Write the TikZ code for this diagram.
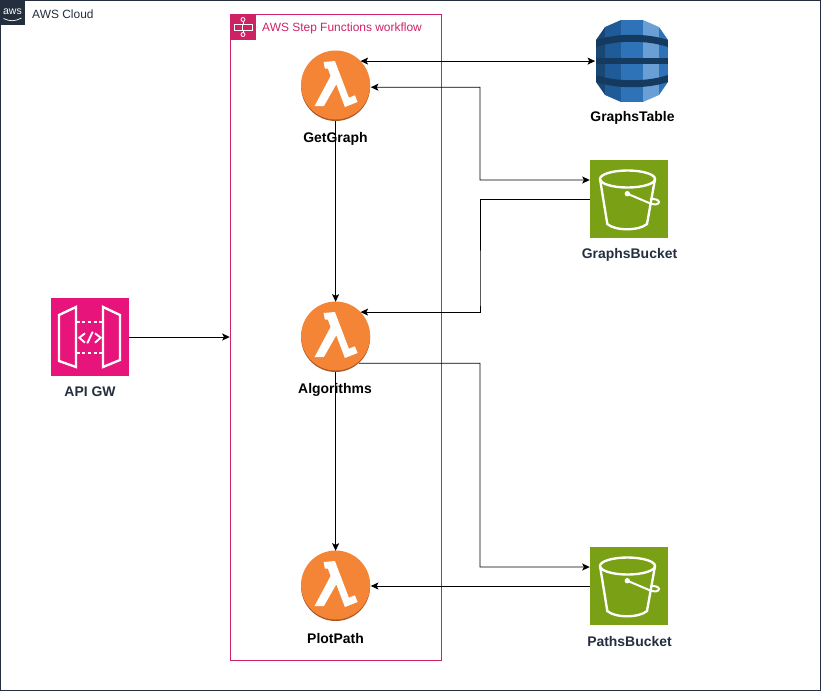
\documentclass[tikz,border=0pt]{standalone}
\usepackage{fontspec}
\setmainfont{Liberation Sans}
\usetikzlibrary{arrows.meta}
\definecolor{awsdark}{HTML}{232F3E}
\definecolor{awspink}{HTML}{E7157B}
\definecolor{stepred}{HTML}{CD2264}
\definecolor{lambdaorange}{HTML}{F58536}
\definecolor{lambdarim}{HTML}{9D5025}
\definecolor{bucketgreen}{HTML}{7AA116}
\definecolor{dbdarkest}{HTML}{153A5F}
\definecolor{dbdark}{HTML}{205B99}
\definecolor{dbmid}{HTML}{2E73B8}
\definecolor{dblight}{HTML}{6A9FD6}
\begin{document}
\begin{tikzpicture}[
     x=0.03cm, y=-0.03cm,
     >={Stealth[length=6.5pt,width=6pt,inset=1.5pt]},
     flow/.style={draw=black,line width=0.75pt},
     frame/.style={draw=#1,inner sep=0pt},
     lambdanode/.style={circle,inner sep=0pt,minimum size=2.1cm},
     tablenode/.style={inner sep=0pt,minimum width=2.2cm,minimum height=2.46cm},
     bucketnode/.style={fill=bucketgreen,inner sep=0pt,minimum size=2.34cm},
     apinode/.style={fill=awspink,inner sep=0pt,minimum size=2.34cm},
     lab/.style={font=\fontsize{11.9pt}{14pt}\selectfont\bfseries,text=#1,inner sep=0pt},
     lab/.default=awsdark,
     glyph/.style={draw=white,line width=2pt,line join=miter},
     lambda/.pic={
       \fill[lambdarim!85!lambdaorange] (0,0.5) circle (34.5);
       \fill[lambdaorange] (0,-1) circle (34.5);
       \fill[white] (-12,-24) -- (-0.7,-25) -- (13.3,11.7) -- (19.3,9.3) -- (22,16)
         -- (9.3,21) -- (0.7,-1.7) -- (-11.7,20) -- (-21,20) -- (-5,-10) -- (-7.7,-17.3)
         -- (-10.7,-17.3) -- cycle;
     },
     dbtable/.pic={
       \begin{scope}
         \clip (-36,-21) -- (-27,-34) -- (-11,-41) -- (11,-41) -- (27,-34) -- (36,-21)
           -- (36,21) -- (27,34) -- (11,41) -- (-11,41) -- (-27,34) -- (-36,21) -- cycle;
         \fill[dbdarkest!65!dbdark] (-36,-41) rectangle (-27,41);
         \fill[dbdark] (-27,-41) rectangle (-11,41);
         \fill[dbmid] (-11,-41) rectangle (11,41);
         \fill[dblight] (11,-41) rectangle (27,41);
         \fill[dbmid] (27,-41) rectangle (36,41);
         \fill[dbdarkest] (-36,-21) .. controls (-15,-28) and (15,-28) .. (36,-21)
           -- (36,-14) .. controls (15,-21) and (-15,-21) .. (-36,-14) -- cycle;
         \fill[dbdarkest] (-36,-3) rectangle (36,3);
         \fill[dbdarkest] (-36,21) .. controls (-15,28) and (15,28) .. (36,21)
           -- (36,14) .. controls (15,21) and (-15,21) .. (-36,14) -- cycle;
       \end{scope}
     },
     bucket/.pic={
       \draw[glyph] (-1.5,-20) ellipse (27.5 and 8.5);
       \draw[glyph] (-29,-20) -- (-21.7,25) .. controls (-14,32) and (10,32) .. (18,25) -- (26,-20);
       \fill[white] (-1.7,-5.3) circle (2.7);
       \draw[draw=white,line width=1.7pt] (-1.7,-5.3) -- (19,3.5) .. controls (26,7) and (30,5) .. (30,3)
         .. controls (30,1) and (25,-1) .. (21,0.5);
     },
     apigw/.pic={
       \draw[glyph] (-31,-22) -- (-14,-30) -- (-14,30) -- (-31,24) -- cycle;
       \draw[glyph] (13,-30) -- (30,-22) -- (30,23) -- (13,30) -- cycle;
       \draw[glyph,dash pattern=on 3pt off 2pt] (-14,-15) -- (13,-15);
       \draw[glyph,dash pattern=on 3pt off 2pt] (-14,16) -- (13,16);
       \draw[glyph,line width=1.6pt] (-5,-3.7) -- (-10.7,0.7) -- (-5,5.7);
       \draw[glyph,line width=1.6pt] (2.7,-5.3) -- (-2.7,6.3);
       \draw[glyph,line width=1.6pt] (5,-3.7) -- (10.7,0.7) -- (5,5.7);
     },
     stepglyph/.pic={
       \draw[draw=white,line width=0.7pt] (-9,-3) rectangle (9,3);
       \draw[draw=white,line width=0.7pt] (-1,-3) -- (-1,3) (0,-3) -- (0,-5.5) (0,3) -- (0,5.5);
       \draw[draw=white,line width=0.7pt] (0,-7.5) circle (2) (0,7.5) circle (2);
     },
     awslogo/.pic={
       \draw[white,line width=0.6pt] (-9,6) .. controls (-3,9) and (3,9) .. (9,5.5);
     }
   ]
   \path[use as bounding box] (0,0) rectangle (821,691);
   % Frames.
   \node[frame=awsdark,minimum width=24.6cm,minimum height=20.7cm] (cloud) at (410.5,345.5) {};
   \node[fill=awsdark,inner sep=0pt,minimum size=0.75cm,font=\fontsize{9pt}{9pt}\selectfont,text=white] (awsbadge) at (12.5,12.5) {\raisebox{2pt}{aws}};
   \pic at (awsbadge) {awslogo};
   \node[anchor=west,inner sep=0pt,text=awsdark,font=\fontsize{10.2pt}{12pt}\selectfont] (cloudname) at (32,14) {AWS Cloud};
   \node[frame=stepred,minimum width=6.33cm,minimum height=19.38cm] (workflow) at (335.5,337) {};
   \node[fill=stepred,inner sep=0pt,minimum size=0.75cm] (stepbadge) at (243,27) {};
   \pic at (stepbadge) {stepglyph};
   \node[anchor=west,inner sep=0pt,text=stepred,font=\fontsize{10.2pt}{12pt}\selectfont] (stepname) at (262,28) {AWS Step Functions workflow};
   % Services.
   \node[apinode] (apigw) at (90,337) {};
   \pic at (apigw) {apigw};
   \node[lab] (apigwname) at (90,392) {API GW};
   \node[lambdanode] (getgraph) at (335.6,86) {};
   \pic at (getgraph) {lambda};
   \node[lambdanode] (algorithms) at (335.6,337) {};
   \pic at (algorithms) {lambda};
   \node[lambdanode] (plotpath) at (335.6,586) {};
   \pic at (plotpath) {lambda};
   \node[tablenode] (graphstable) at (632,61) {};
   \pic at (graphstable) {dbtable};
   \node[lab=black] (graphstablename) at (632.5,117.5) {GraphsTable};
   \node[bucketnode] (graphsbucket) at (629,199) {};
   \pic at (graphsbucket) {bucket};
   \node[lab] (graphsbucketname) at (629.5,254.5) {GraphsBucket};
   \node[bucketnode] (pathsbucket) at (629,586) {};
   \pic at (pathsbucket) {bucket};
   \node[lab] (pathsbucketname) at (629.5,641.5) {PathsBucket};
   % Connectors.
   \draw[flow,->] (apigw.east) -- (workflow.west);
   \draw[flow,<->] (getgraph.45) -- (getgraph.45 -| graphstable.west);
   \draw[flow,<->] (getgraph.-2) -| (480,180) -- ([yshift=0.57cm]graphsbucket.west);
   \draw[flow,->] (graphsbucket.west) -| (480,300) |- (algorithms.45);
   \draw[flow,->] (algorithms.-48) -| (480,567) -- ([yshift=0.57cm]pathsbucket.west);
   \draw[flow,->] (pathsbucket.west) -- (plotpath.east);
   \draw[flow,->] (getgraph.south) -- (algorithms.north);
   \draw[flow,->] (algorithms.south) -- (plotpath.north);
   \node[lab=black] (getgraphname) at (335.5,138.5) {GetGraph};
   \node[lab=black] (algorithmsname) at (335,389.5) {Algorithms};
   \node[lab=black] (plotpathname) at (335.5,638.5) {PlotPath};
 \end{tikzpicture}
\end{document}
